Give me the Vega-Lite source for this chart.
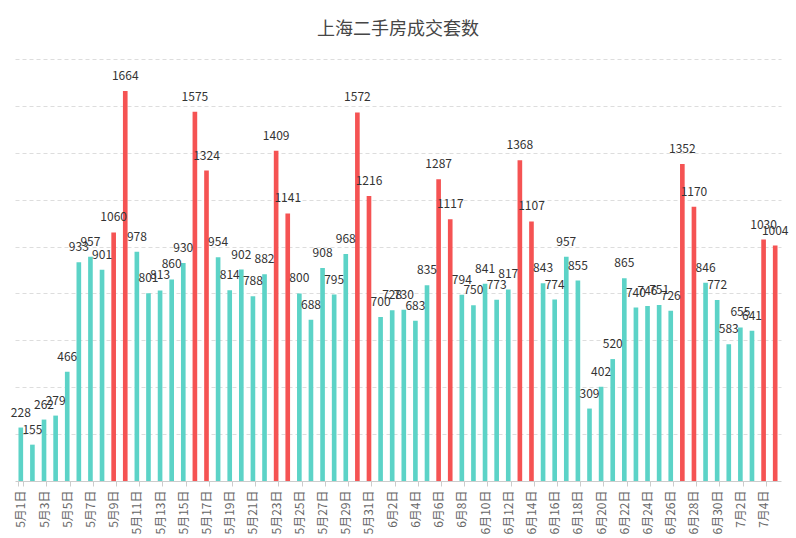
{
  "$schema": "https://vega.github.io/schema/vega-lite/v6.json",
  "width": 766,
  "height": 422,
  "autosize": "none",
  "padding": {"left": 15, "top": 59, "right": 15, "bottom": 57},
  "background": "#ffffff",
  "title": {
    "text": "上海二手房成交套数",
    "anchor": "middle",
    "fontSize": 18,
    "fontWeight": "normal",
    "color": "#464646",
    "font": "Noto Sans CJK SC",
    "offset": 20
  },
  "config": {
    "view": {"stroke": null},
    "font": "Noto Sans CJK SC"
  },
  "data": {
    "values": [
      {"date": "5月1日", "n": 228, "g": "normal"},
      {"date": "5月2日", "n": 155, "g": "normal"},
      {"date": "5月3日", "n": 262, "g": "normal"},
      {"date": "5月4日", "n": 279, "g": "normal"},
      {"date": "5月5日", "n": 466, "g": "normal"},
      {"date": "5月6日", "n": 933, "g": "normal"},
      {"date": "5月7日", "n": 957, "g": "normal"},
      {"date": "5月8日", "n": 901, "g": "normal"},
      {"date": "5月9日", "n": 1060, "g": "high"},
      {"date": "5月10日", "n": 1664, "g": "high"},
      {"date": "5月11日", "n": 978, "g": "normal"},
      {"date": "5月12日", "n": 801, "g": "normal"},
      {"date": "5月13日", "n": 813, "g": "normal"},
      {"date": "5月14日", "n": 860, "g": "normal"},
      {"date": "5月15日", "n": 930, "g": "normal"},
      {"date": "5月16日", "n": 1575, "g": "high"},
      {"date": "5月17日", "n": 1324, "g": "high"},
      {"date": "5月18日", "n": 954, "g": "normal"},
      {"date": "5月19日", "n": 814, "g": "normal"},
      {"date": "5月20日", "n": 902, "g": "normal"},
      {"date": "5月21日", "n": 788, "g": "normal"},
      {"date": "5月22日", "n": 882, "g": "normal"},
      {"date": "5月23日", "n": 1409, "g": "high"},
      {"date": "5月24日", "n": 1141, "g": "high"},
      {"date": "5月25日", "n": 800, "g": "normal"},
      {"date": "5月26日", "n": 688, "g": "normal"},
      {"date": "5月27日", "n": 908, "g": "normal"},
      {"date": "5月28日", "n": 795, "g": "normal"},
      {"date": "5月29日", "n": 968, "g": "normal"},
      {"date": "5月30日", "n": 1572, "g": "high"},
      {"date": "5月31日", "n": 1216, "g": "high"},
      {"date": "6月1日", "n": 700, "g": "normal"},
      {"date": "6月2日", "n": 728, "g": "normal"},
      {"date": "6月3日", "n": 730, "g": "normal"},
      {"date": "6月4日", "n": 683, "g": "normal"},
      {"date": "6月5日", "n": 835, "g": "normal"},
      {"date": "6月6日", "n": 1287, "g": "high"},
      {"date": "6月7日", "n": 1117, "g": "high"},
      {"date": "6月8日", "n": 794, "g": "normal"},
      {"date": "6月9日", "n": 750, "g": "normal"},
      {"date": "6月10日", "n": 841, "g": "normal"},
      {"date": "6月11日", "n": 773, "g": "normal"},
      {"date": "6月12日", "n": 817, "g": "normal"},
      {"date": "6月13日", "n": 1368, "g": "high"},
      {"date": "6月14日", "n": 1107, "g": "high"},
      {"date": "6月15日", "n": 843, "g": "normal"},
      {"date": "6月16日", "n": 774, "g": "normal"},
      {"date": "6月17日", "n": 957, "g": "normal"},
      {"date": "6月18日", "n": 855, "g": "normal"},
      {"date": "6月19日", "n": 309, "g": "normal"},
      {"date": "6月20日", "n": 402, "g": "normal"},
      {"date": "6月21日", "n": 520, "g": "normal"},
      {"date": "6月22日", "n": 865, "g": "normal"},
      {"date": "6月23日", "n": 740, "g": "normal"},
      {"date": "6月24日", "n": 746, "g": "normal"},
      {"date": "6月25日", "n": 751, "g": "normal"},
      {"date": "6月26日", "n": 726, "g": "normal"},
      {"date": "6月27日", "n": 1352, "g": "high"},
      {"date": "6月28日", "n": 1170, "g": "high"},
      {"date": "6月29日", "n": 846, "g": "normal"},
      {"date": "6月30日", "n": 772, "g": "normal"},
      {"date": "7月1日", "n": 583, "g": "normal"},
      {"date": "7月2日", "n": 655, "g": "normal"},
      {"date": "7月3日", "n": 641, "g": "normal"},
      {"date": "7月4日", "n": 1030, "g": "high"},
      {"date": "7月5日", "n": 1004, "g": "high"}
    ]
  },
  "encoding": {
    "x": {
      "field": "date",
      "type": "ordinal",
      "sort": null,
      "scale": {"paddingInner": 0.6, "paddingOuter": 0.3},
      "axis": {
        "title": null,
        "values": ["5月1日","5月3日","5月5日","5月7日","5月9日","5月11日","5月13日","5月15日","5月17日","5月19日","5月21日","5月23日","5月25日","5月27日","5月29日","5月31日","6月2日","6月4日","6月6日","6月8日","6月10日","6月12日","6月14日","6月16日","6月18日","6月20日","6月22日","6月24日","6月26日","6月28日","6月30日","7月2日","7月4日"],
        "labelAngle": -90,
        "labelFontSize": 12,
        "labelColor": "#666666",
        "labelPadding": 4,
        "labelFont": "Noto Sans CJK SC",
        "domainColor": "#cccccc",
        "tickColor": "#cccccc",
        "tickSize": 5,
        "tickBand": "extent",
        "grid": false
      }
    },
    "y": {
      "field": "n",
      "type": "quantitative",
      "scale": {"domain": [0, 1800], "nice": false},
      "axis": {
        "title": null,
        "labels": false,
        "ticks": false,
        "domain": false,
        "values": [200, 400, 600, 800, 1000, 1200, 1400, 1600, 1800],
        "grid": true,
        "gridColor": "#dddddd",
        "gridDash": [4, 3],
        "gridWidth": 1
      }
    }
  },
  "layer": [
    {
      "mark": {"type": "bar"},
      "encoding": {
        "color": {
          "field": "g",
          "type": "nominal",
          "scale": {"domain": ["normal", "high"], "range": ["#5cd3c7", "#f55353"]},
          "legend": null
        }
      }
    },
    {
      "mark": {"type": "text", "baseline": "alphabetic", "dy": -11, "fontSize": 12, "color": "#333333", "font": "Noto Sans CJK SC"},
      "encoding": {
        "text": {"field": "n", "type": "quantitative"}
      }
    }
  ]
}
